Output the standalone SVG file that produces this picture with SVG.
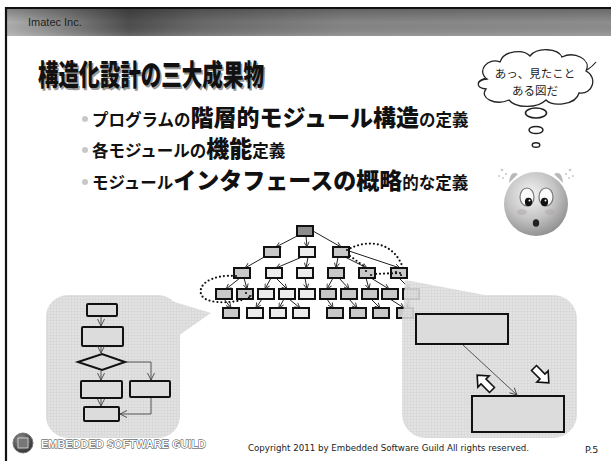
<svg xmlns="http://www.w3.org/2000/svg" width="611" height="461" viewBox="0 0 611 461">
  <defs>
    <linearGradient id="hdr" x1="0" y1="0" x2="1" y2="0">
      <stop offset="0" stop-color="#b0b0b0"/>
      <stop offset="0.08" stop-color="#8a8a8a"/>
      <stop offset="0.2" stop-color="#4e4e4e"/>
      <stop offset="0.32" stop-color="#6a6a6a"/>
      <stop offset="0.55" stop-color="#858585"/>
      <stop offset="1" stop-color="#8e8e8e"/>
    </linearGradient>
    <linearGradient id="hdrShade" x1="0" y1="0" x2="0" y2="1">
      <stop offset="0" stop-color="#000" stop-opacity="0.25"/>
      <stop offset="0.5" stop-color="#000" stop-opacity="0"/>
      <stop offset="1" stop-color="#fff" stop-opacity="0.15"/>
    </linearGradient>
    <radialGradient id="faceFill" cx="0.42" cy="0.35" r="0.7">
      <stop offset="0" stop-color="#f4f4f4"/>
      <stop offset="0.55" stop-color="#c4c4c4"/>
      <stop offset="1" stop-color="#8a8a8a"/>
    </radialGradient>
    <radialGradient id="logoFill" cx="0.4" cy="0.35" r="0.7">
      <stop offset="0" stop-color="#9a9a9a"/>
      <stop offset="0.6" stop-color="#555"/>
      <stop offset="1" stop-color="#2a2a2a"/>
    </radialGradient>
    <pattern id="grain" width="3" height="3" patternUnits="userSpaceOnUse">
      <rect width="3" height="3" fill="#d6d6d6"/>
      <rect width="2" height="2" fill="#e0e0e0"/>
    </pattern>
    <marker id="vh" viewBox="0 0 6 6" refX="5.5" refY="3" markerWidth="6" markerHeight="6" markerUnits="userSpaceOnUse" orient="auto">
      <path d="M0.5,0.5 L5.5,3 L0.5,5.5" fill="none" stroke="#333" stroke-width="0.9"/>
    </marker>
    <marker id="vh2" viewBox="0 0 8 8" refX="7.5" refY="4" markerWidth="8" markerHeight="8" markerUnits="userSpaceOnUse" orient="auto">
      <path d="M0.5,0.5 L7.5,4 L0.5,7.5" fill="none" stroke="#444" stroke-width="0.9"/>
    </marker>
    <style>
      .jp { font-family: "Noto Sans CJK JP", "Noto Sans", sans-serif; }
      .bx { stroke: #111; stroke-width: 2; }
      .g1 { fill: #c8c8c8; }
      .g2 { fill: #ececec; }
      .g0 { fill: #8c8c8c; }
      .tl { stroke: #222; stroke-width: 1; fill: none; marker-end: url(#vh); }
      .fl { stroke: #444; stroke-width: 0.9; fill: none; marker-end: url(#vh2); }
      .dot { fill: none; stroke: #111; stroke-width: 2.2; stroke-dasharray: 0 4; stroke-linecap: round; }
      .fb { fill: #dcdcdc; stroke: #111; stroke-width: 2; }
      .small { font-size: 16.5px; font-weight: 700; }
      .big { font-size: 23px; font-weight: 900; }
      .blk { fill: #fff; stroke: #111; stroke-width: 1.6; stroke-linejoin: miter; }
    </style>
  </defs>

  <!-- page -->
  <rect width="611" height="461" fill="#fff"/>
  <rect x="7" y="9" width="610" height="27" fill="url(#hdr)"/>
  <rect x="7" y="9" width="610" height="27" fill="url(#hdrShade)"/>
  <path d="M6,461 V8 H611" fill="none" stroke="#111" stroke-width="2.2"/>
  <text x="28" y="26" font-family="Liberation Sans, Arial, sans-serif" font-size="11" fill="#1e1e1e">Imatec Inc.</text>

  <!-- title -->
  <g id="title">
    <text class="jp" x="39.5" y="87.5" font-size="29" font-weight="900" fill="#9a9a9a" textLength="226" lengthAdjust="spacingAndGlyphs">構造化設計の三大成果物</text>
    <text class="jp" x="38" y="86" font-size="29" font-weight="900" fill="#111" textLength="226" lengthAdjust="spacingAndGlyphs">構造化設計の三大成果物</text>
  </g>

  <!-- bullets -->
  <g id="bullets" fill="#111">
    <circle cx="85" cy="119" r="3" fill="#c8c8c8"/>
    <circle cx="85" cy="150" r="3" fill="#c8c8c8"/>
    <circle cx="85" cy="182" r="3" fill="#c8c8c8"/>
    <text class="jp" x="92" y="126"><tspan class="small">プログラムの</tspan><tspan class="big">階層的モジュール構造</tspan><tspan class="small">の定義</tspan></text>
    <text class="jp" x="92" y="157"><tspan class="small">各モジュールの</tspan><tspan class="big">機能</tspan><tspan class="small">定義</tspan></text>
    <text class="jp" x="92" y="189"><tspan class="small">モジュール</tspan><tspan class="big">インタフェースの概略</tspan><tspan class="small">的な定義</tspan></text>
  </g>

  <!-- thought cloud -->
  <g id="cloud">
    <path d="M487,79 C476,71 488,57 500,62 C504,50 524,49 530,56 C537,47 558,48 562,57 C574,51 592,59 586,71 C598,77 593,95 579,93 C576,105 553,107 546,100 C537,109 515,108 509,100 C495,106 479,98 486,89 C475,88 476,80 487,79 Z" fill="#fff" stroke="#222" stroke-width="1.3"/>
    <path d="M486,78 Q481,79 478,83" fill="none" stroke="#222" stroke-width="1.2"/>
    <path d="M587,70 Q593,66 596,62" fill="none" stroke="#222" stroke-width="1.2"/>
    <text class="jp" x="535" y="78" font-size="11.5" text-anchor="middle" fill="#222">あっ、見たこと</text>
    <text class="jp" x="535" y="95" font-size="11.5" text-anchor="middle" fill="#222">ある図だ</text>
    <ellipse cx="536" cy="113" rx="10.5" ry="5" fill="#fff" stroke="#222" stroke-width="1.6"/>
    <ellipse cx="536" cy="130" rx="7" ry="3.6" fill="#fff" stroke="#222" stroke-width="1.5"/>
    <ellipse cx="536" cy="145" rx="3.8" ry="2.3" fill="#fff" stroke="#222" stroke-width="1.4"/>
  </g>

  <!-- surprised face -->
  <g id="face">
    <g fill="#c8c8c8">
      <circle cx="502" cy="170" r="1.3"/><circle cx="506" cy="174" r="1.1"/><circle cx="499" cy="176" r="1.1"/><circle cx="503" cy="178" r="1"/>
      <circle cx="570" cy="170" r="1.3"/><circle cx="566" cy="174" r="1.1"/><circle cx="573" cy="176" r="1.1"/><circle cx="569" cy="178" r="1"/>
    </g>
    <path d="M509,183 Q510,170 518,174 Z" fill="#b8b8b8"/>
    <path d="M563,183 Q562,170 554,174 Z" fill="#b8b8b8"/>
    <circle cx="536" cy="204" r="32" fill="url(#faceFill)"/>
    <ellipse cx="522" cy="212" rx="5" ry="3" fill="#b0a8a8" opacity="0.5"/>
    <ellipse cx="550" cy="212" rx="5" ry="3" fill="#b0a8a8" opacity="0.5"/>
    <ellipse cx="527" cy="197" rx="7" ry="9" fill="#fafafa" stroke="#777" stroke-width="1.2"/>
    <ellipse cx="546" cy="197" rx="7" ry="9" fill="#fafafa" stroke="#777" stroke-width="1.2"/>
    <ellipse cx="528.5" cy="202" rx="3.6" ry="4.2" fill="#111"/>
    <ellipse cx="544.5" cy="202" rx="3.6" ry="4.2" fill="#111"/>
    <circle cx="529.5" cy="200.5" r="1" fill="#fff"/>
    <circle cx="545.5" cy="200.5" r="1" fill="#fff"/>
    <ellipse cx="536" cy="223" rx="3.2" ry="3.8" fill="#222"/>
  </g>

  <!-- module structure tree -->
  <g id="connectors">
    <line class="tl" x1="299" y1="235" x2="276" y2="247"/>
    <line class="tl" x1="306" y1="236" x2="307" y2="247"/>
    <line class="tl" x1="313" y1="231" x2="341" y2="247"/>
    <line class="tl" x1="266" y1="256" x2="245" y2="268"/>
    <line class="tl" x1="302" y1="257" x2="276" y2="268"/>
    <line class="tl" x1="308" y1="257" x2="306" y2="268"/>
    <line class="tl" x1="338" y1="257" x2="336" y2="268"/>
    <line class="tl" x1="345" y1="257" x2="367" y2="268"/>
    <line class="tl" x1="349" y1="251" x2="400" y2="268"/>
    <line class="tl" x1="240" y1="278" x2="226" y2="289"/>
    <line class="tl" x1="244" y1="278" x2="247" y2="289"/>
    <line class="tl" x1="271" y1="278" x2="265" y2="289"/>
    <line class="tl" x1="276" y1="278" x2="287" y2="289"/>
    <line class="tl" x1="305" y1="278" x2="307" y2="289"/>
    <line class="tl" x1="333" y1="278" x2="327" y2="289"/>
    <line class="tl" x1="339" y1="278" x2="349" y2="289"/>
    <line class="tl" x1="366" y1="278" x2="369" y2="289"/>
    <line class="tl" x1="371" y1="278" x2="389" y2="289"/>
    <line class="tl" x1="399" y1="278" x2="410" y2="289"/>
    <line class="tl" x1="224" y1="299" x2="231" y2="308"/>
    <line class="tl" x1="262" y1="299" x2="256" y2="308"/>
    <line class="tl" x1="284" y1="299" x2="279" y2="308"/>
    <line class="tl" x1="289" y1="299" x2="300" y2="308"/>
    <line class="tl" x1="327" y1="299" x2="333" y2="308"/>
    <line class="tl" x1="349" y1="299" x2="357" y2="308"/>
    <line class="tl" x1="371" y1="299" x2="380" y2="308"/>
    <line class="tl" x1="390" y1="299" x2="404" y2="308"/>
    <line class="tl" x1="409" y1="299" x2="407" y2="308"/>
  </g>

  <g id="tree-nodes">
    <g id="m0"><rect class="bx g0" x="297" y="226" width="16" height="10"/></g>
    <g id="m1"><rect class="bx g1" x="264" y="247" width="16" height="10"/></g>
    <g id="m2"><rect class="bx g2" x="299" y="247" width="16" height="10"/></g>
    <g id="m3"><rect class="bx g1" x="333" y="247" width="16" height="10"/></g>
    <g id="m4"><rect class="bx g1" x="234" y="268" width="16" height="10"/></g>
    <g id="m5"><rect class="bx g2" x="266" y="268" width="16" height="10"/></g>
    <g id="m6"><rect class="bx g2" x="297" y="268" width="16" height="10"/></g>
    <g id="m7"><rect class="bx g1" x="328" y="268" width="16" height="10"/></g>
    <g id="m8"><rect class="bx g1" x="359" y="268" width="16" height="10"/></g>
    <g id="m9"><rect class="bx g1" x="391" y="268" width="16" height="10"/></g>
    <g id="m10"><rect class="bx g1" x="216" y="289" width="16" height="10"/></g>
    <g id="m11"><rect class="bx g1" x="237" y="289" width="16" height="10"/></g>
    <g id="m12"><rect class="bx g2" x="258" y="289" width="16" height="10"/></g>
    <g id="m13"><rect class="bx g2" x="279" y="289" width="16" height="10"/></g>
    <g id="m14"><rect class="bx g2" x="299" y="289" width="16" height="10"/></g>
    <g id="m15"><rect class="bx g1" x="320" y="289" width="16" height="10"/></g>
    <g id="m16"><rect class="bx g1" x="341" y="289" width="16" height="10"/></g>
    <g id="m17"><rect class="bx g1" x="362" y="289" width="16" height="10"/></g>
    <g id="m18"><rect class="bx g1" x="382" y="289" width="16" height="10"/></g>
    <g id="m19"><rect class="bx g1" x="403" y="289" width="16" height="10"/></g>
    <g id="m20"><rect class="bx g1" x="223" y="308" width="16" height="10"/></g>
    <g id="m21"><rect class="bx g2" x="247" y="308" width="16" height="10"/></g>
    <g id="m22"><rect class="bx g2" x="270" y="308" width="16" height="10"/></g>
    <g id="m23"><rect class="bx g2" x="293" y="308" width="16" height="10"/></g>
    <g id="m24"><rect class="bx g1" x="327" y="308" width="16" height="10"/></g>
    <g id="m25"><rect class="bx g1" x="350" y="308" width="16" height="10"/></g>
    <g id="m26"><rect class="bx g1" x="373" y="308" width="16" height="10"/></g>
    <g id="m27"><rect class="bx g1" x="397" y="308" width="16" height="10"/></g>
  </g>

  <!-- dotted groupings -->
  <g id="groupings">
    <path class="dot" d="M236,276 C210,274 196,286 202,296 C208,305 240,304 254,295"/>
    <path class="dot" d="M347,250 C368,238 394,242 403,268 M400,273 L374,274 M350,256 L365,267"/>
    <g fill="#111">
      <circle cx="246" cy="293" r="1.1"/><circle cx="250" cy="296" r="1.1"/>
      <circle cx="366" cy="271" r="1.1"/><circle cx="371" cy="275" r="1.1"/>
      <circle cx="396" cy="272" r="1.1"/><circle cx="401" cy="275" r="1.1"/>
    </g>
  </g>

  <!-- flowchart callout -->
  <g id="callout-flow">
    <g opacity="0.92">
      <rect x="46" y="295" width="134" height="143" rx="22" fill="url(#grain)"/>
      <polygon points="168,300 211,313 178,336" fill="url(#grain)"/>
    </g>
    <g id="f1"><rect class="fb" x="87" y="304" width="30" height="12" rx="1"/></g>
    <g id="f2"><rect class="fb" x="82" y="327" width="41" height="19" rx="1"/></g>
    <g id="f3"><polygon class="fb" points="78,362 102,354 125,362 102,370"/></g>
    <g id="f4"><rect class="fb" x="81" y="381" width="41" height="17" rx="1"/></g>
    <g id="f5"><rect class="fb" x="130" y="381" width="40" height="16" rx="1"/></g>
    <g id="f6"><rect class="fb" x="84" y="407" width="35" height="14" rx="1"/></g>
    <g id="flow-links">
      <line class="fl" x1="101" y1="317" x2="101" y2="326"/>
      <line class="fl" x1="101" y1="347" x2="101" y2="353"/>
      <line class="fl" x1="101" y1="371" x2="101" y2="380"/>
      <polyline class="fl" points="126,362 151,362 151,380"/>
      <line class="fl" x1="101" y1="399" x2="101" y2="406"/>
      <polyline class="fl" points="151,398 151,414 120,414"/>
    </g>
  </g>

  <!-- interface callout -->
  <g id="callout-if">
    <g opacity="0.9">
      <rect x="402" y="295" width="175" height="143" rx="24" fill="url(#grain)"/>
      <polygon points="405,280 490,296 403,320" fill="url(#grain)"/>
    </g>
    <g id="if-a"><rect class="fb" x="416" y="314" width="92" height="30"/></g>
    <g id="if-b"><rect class="fb" x="472" y="396" width="92" height="36"/></g>
    <line class="fl" x1="463" y1="345" x2="517" y2="395"/>
    <path class="blk" d="M0,-3.5 H12 V-8 L21,0 L12,8 V3.5 H0 Z" transform="translate(492,390) rotate(-135)"/>
    <path class="blk" d="M0,-3.5 H12 V-8 L21,0 L12,8 V3.5 H0 Z" transform="translate(534,368) rotate(45)"/>
  </g>

  <!-- footer -->
  <g id="footer">
    <circle cx="23" cy="443" r="10" fill="url(#logoFill)" stroke="#777" stroke-width="1"/>
    <rect x="18" y="438" width="10" height="10" fill="#777" stroke="#ddd" stroke-width="0.8"/>
    <text x="41" y="448" font-family="Liberation Sans, Arial, sans-serif" font-size="11.5" font-weight="700" fill="#fff" stroke="#333" stroke-width="0.9" paint-order="stroke" textLength="165" lengthAdjust="spacingAndGlyphs">EMBEDDED SOFTWARE GUILD</text>
    <text x="248" y="451" font-family="DejaVu Sans, Verdana, sans-serif" font-size="9" fill="#222" textLength="281" lengthAdjust="spacingAndGlyphs">Copyright 2011 by Embedded Software Guild  All rights reserved.</text>
    <text x="585" y="453" font-family="DejaVu Sans, Verdana, sans-serif" font-size="9.5" fill="#222">P.5</text>
  </g>
</svg>
